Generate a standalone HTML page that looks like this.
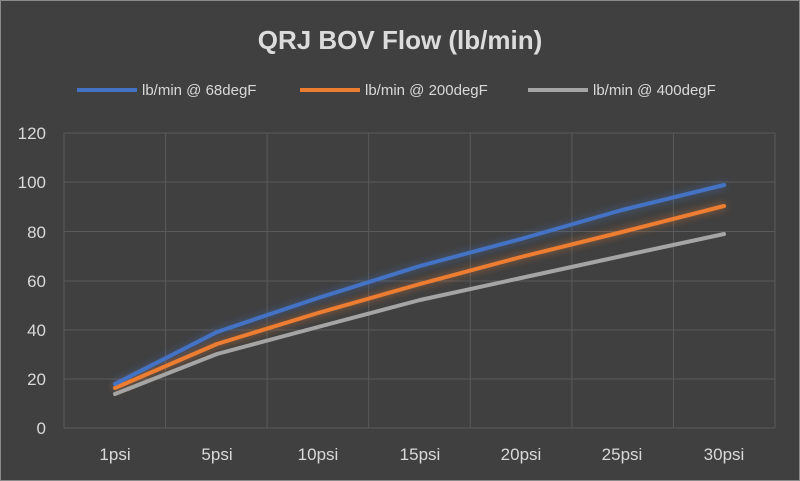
<!DOCTYPE html>
<html><head><meta charset="utf-8"><style>
body{margin:0;background:#404040;}
svg{display:block;font-family:"Liberation Sans",sans-serif;}
</style></head><body>
<svg width="800" height="481" xmlns="http://www.w3.org/2000/svg">
<defs>
<filter id="g" x="-20%" y="-20%" width="140%" height="140%"><feGaussianBlur stdDeviation="4"/></filter>
</defs>
<rect x="0.5" y="0.5" width="799" height="480" fill="#404040" stroke="#8a8a8a"/>
<text x="400" y="49" text-anchor="middle" font-size="26" font-weight="bold" fill="#dcdcdc">QRJ BOV Flow (lb/min)</text>
<g font-size="15" fill="#d9d9d9">
<line x1="77" y1="90" x2="137" y2="90" stroke="#4472c4" stroke-width="4"/><text x="142" y="95">lb/min @ 68degF</text>
<line x1="300" y1="90" x2="360" y2="90" stroke="#ed7d31" stroke-width="4"/><text x="365" y="95">lb/min @ 200degF</text>
<line x1="528" y1="90" x2="588" y2="90" stroke="#a5a5a5" stroke-width="4"/><text x="593" y="95">lb/min @ 400degF</text>
</g>
<g stroke="#5a5a5a" stroke-width="1">
<line x1="64" y1="133" x2="775" y2="133"/><line x1="64" y1="182" x2="775" y2="182"/>
<line x1="64" y1="231.5" x2="775" y2="231.5"/><line x1="64" y1="281" x2="775" y2="281"/>
<line x1="64" y1="330" x2="775" y2="330"/><line x1="64" y1="379" x2="775" y2="379"/>
<line x1="64" y1="428" x2="775" y2="428"/>
<line x1="64" y1="133" x2="64" y2="428"/><line x1="165.6" y1="133" x2="165.6" y2="428"/>
<line x1="267.1" y1="133" x2="267.1" y2="428"/><line x1="368.7" y1="133" x2="368.7" y2="428"/>
<line x1="470.3" y1="133" x2="470.3" y2="428"/><line x1="571.9" y1="133" x2="571.9" y2="428"/>
<line x1="673.4" y1="133" x2="673.4" y2="428"/><line x1="775" y1="133" x2="775" y2="428"/>
</g>
<g font-size="17" fill="#d9d9d9" text-anchor="end">
<text x="46" y="139">120</text><text x="46" y="188">100</text><text x="46" y="238">80</text>
<text x="46" y="287">60</text><text x="46" y="336">40</text><text x="46" y="385">20</text><text x="46" y="434">0</text>
</g>
<g font-size="17" fill="#d9d9d9" text-anchor="middle">
<text x="115" y="460">1psi</text><text x="217" y="460">5psi</text><text x="318" y="460">10psi</text>
<text x="420" y="460">15psi</text><text x="521" y="460">20psi</text><text x="622" y="460">25psi</text><text x="724" y="460">30psi</text>
</g>
<g fill="none" stroke-width="4" stroke-linejoin="round" stroke-linecap="round">
<polyline filter="url(#g)" opacity="0.6" stroke="#4472c4" points="115,384 217,332 318,298 420,266 521,239 622,210 724,185"/>
<polyline filter="url(#g)" opacity="0.6" stroke="#ed7d31" points="115,388 217,344 318,313 420,284 521,257 622,232 724,206"/>
<polyline stroke="#a5a5a5" points="115,394 217,354 318,327 420,300 521,278 622,256 724,234"/>
<polyline stroke="#ed7d31" points="115,388 217,344 318,313 420,284 521,257 622,232 724,206"/>
<polyline stroke="#4472c4" points="115,384 217,332 318,298 420,266 521,239 622,210 724,185"/>
</g>
</svg>
</body></html>
